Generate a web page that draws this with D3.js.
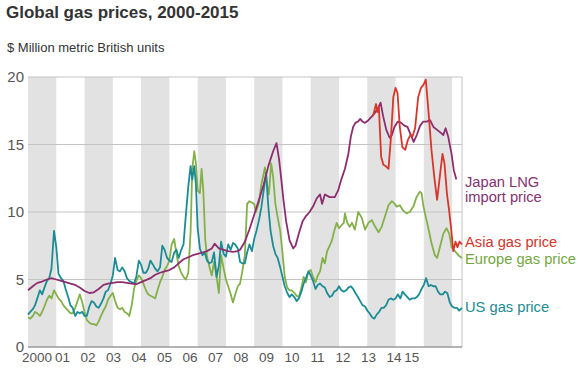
<!DOCTYPE html>
<html>
<head>
<meta charset="utf-8">
<script src="https://cdn.jsdelivr.net/npm/d3@7"></script>
<style>
  html, body { margin: 0; padding: 0; background: #fff; }
  svg { display: block; font-family: "Liberation Sans", Arial, Helvetica, sans-serif; }
</style>
</head>
<body>
<svg id="chart" width="580" height="373"></svg>
<script>
// ---------- DATA ----------
const titleText = "Global gas prices, 2000-2015";
const subtitleText = "$ Million metric British units";
const yTicks = [0, 5, 10, 15, 20];
const tickLabels = ["2000","01","02","03","04","05","06","07","08","09","10","11","12","13","14","15"];
const tickSlots = [0,1,2,3,4,5,6,7,8,9,10,11,12,13,14,14.7];
const bandYears = [2000, 2002, 2004, 2006, 2008, 2010, 2012, 2014];

const usPrice = [[2000.0,2.4],[2000.08,2.6],[2000.17,2.8],[2000.25,3.1],[2000.33,3.6],[2000.42,4.2],[2000.5,3.9],[2000.58,4.4],[2000.67,4.9],[2000.75,5.1],[2000.83,5.8],[2000.92,8.6],[2001.0,7.4],[2001.08,5.4],[2001.17,5.1],[2001.25,4.9],[2001.33,4.3],[2001.42,3.7],[2001.5,3.1],[2001.58,2.9],[2001.67,2.3],[2001.75,2.6],[2001.83,2.5],[2001.92,2.6],[2002.0,2.3],[2002.08,2.3],[2002.17,3.0],[2002.25,3.4],[2002.33,3.3],[2002.42,3.0],[2002.5,2.9],[2002.58,3.2],[2002.67,3.6],[2002.75,4.1],[2002.83,4.2],[2002.92,4.7],[2003.0,5.3],[2003.08,6.6],[2003.17,5.7],[2003.25,5.6],[2003.33,5.9],[2003.42,5.6],[2003.5,5.1],[2003.58,4.9],[2003.67,4.8],[2003.75,4.7],[2003.83,5.2],[2003.92,6.4],[2004.0,6.1],[2004.08,5.5],[2004.17,5.5],[2004.25,5.8],[2004.33,6.4],[2004.42,6.1],[2004.5,5.8],[2004.58,5.6],[2004.67,5.9],[2004.75,7.5],[2004.83,7.2],[2004.92,6.6],[2005.0,6.4],[2005.08,6.3],[2005.17,7.0],[2005.25,7.2],[2005.33,6.6],[2005.42,7.2],[2005.5,7.6],[2005.58,9.7],[2005.67,11.9],[2005.75,13.4],[2005.81,12.4],[2005.88,13.4],[2005.94,12.0],[2006.0,8.8],[2006.08,7.3],[2006.17,6.8],[2006.25,7.0],[2006.33,6.4],[2006.42,6.2],[2006.5,6.3],[2006.58,7.0],[2006.67,5.2],[2006.75,6.0],[2006.83,7.8],[2006.92,6.9],[2007.0,6.7],[2007.08,7.6],[2007.17,7.2],[2007.25,7.7],[2007.33,7.6],[2007.42,7.3],[2007.5,6.3],[2007.58,6.2],[2007.67,6.2],[2007.75,7.0],[2007.83,7.6],[2007.92,7.1],[2008.0,8.0],[2008.08,8.6],[2008.17,9.4],[2008.25,10.3],[2008.33,11.5],[2008.42,12.9],[2008.5,10.4],[2008.58,8.6],[2008.67,7.5],[2008.75,6.9],[2008.83,6.6],[2008.92,5.9],[2009.0,5.2],[2009.08,4.5],[2009.17,4.0],[2009.25,3.7],[2009.33,3.9],[2009.42,3.7],[2009.5,3.4],[2009.58,3.6],[2009.67,4.1],[2009.75,4.7],[2009.83,5.1],[2009.92,5.6],[2010.0,5.3],[2010.08,4.9],[2010.17,4.3],[2010.25,4.6],[2010.33,4.7],[2010.42,4.5],[2010.5,4.4],[2010.58,4.0],[2010.67,3.7],[2010.75,3.8],[2010.83,4.1],[2010.92,4.2],[2011.0,4.5],[2011.08,4.2],[2011.17,4.1],[2011.25,4.2],[2011.33,4.4],[2011.42,4.5],[2011.5,4.3],[2011.58,4.0],[2011.67,3.7],[2011.75,3.4],[2011.83,3.1],[2011.92,3.0],[2012.0,2.7],[2012.08,2.5],[2012.17,2.2],[2012.25,2.1],[2012.33,2.4],[2012.42,2.6],[2012.5,2.9],[2012.58,2.9],[2012.67,3.1],[2012.75,3.5],[2012.83,3.6],[2012.92,3.5],[2013.0,3.6],[2013.08,3.9],[2013.17,3.6],[2013.25,4.1],[2013.33,3.9],[2013.42,3.7],[2013.5,3.5],[2013.58,3.6],[2013.67,3.6],[2013.75,3.7],[2013.83,3.9],[2013.92,4.3],[2014.0,4.6],[2014.08,5.1],[2014.17,4.5],[2014.25,4.6],[2014.33,4.5],[2014.42,4.5],[2014.5,4.1],[2014.58,3.9],[2014.67,3.9],[2014.75,4.1],[2014.83,4.0],[2014.92,3.3],[2015.0,3.0],[2015.08,2.9],[2015.17,2.9],[2015.25,2.7],[2015.35,2.9]];

const europePrice = [[2000.0,2.2],[2000.08,2.1],[2000.17,2.3],[2000.25,2.6],[2000.33,2.5],[2000.42,2.3],[2000.5,2.6],[2000.58,3.0],[2000.67,3.5],[2000.75,3.8],[2000.83,3.6],[2000.92,4.2],[2001.0,3.9],[2001.08,3.6],[2001.17,3.4],[2001.25,3.1],[2001.33,2.9],[2001.42,2.7],[2001.5,2.5],[2001.58,2.5],[2001.67,2.9],[2001.75,3.4],[2001.83,3.9],[2001.92,3.3],[2002.0,2.6],[2002.08,2.0],[2002.17,1.8],[2002.25,1.7],[2002.33,1.7],[2002.42,1.6],[2002.5,1.9],[2002.58,2.3],[2002.67,2.7],[2002.75,3.0],[2002.83,3.5],[2002.92,3.8],[2003.0,4.0],[2003.08,3.4],[2003.17,2.9],[2003.25,2.8],[2003.33,2.9],[2003.42,2.6],[2003.5,2.5],[2003.58,2.3],[2003.67,3.1],[2003.75,4.3],[2003.83,4.9],[2003.92,5.3],[2004.0,5.1],[2004.08,4.7],[2004.17,4.2],[2004.25,3.9],[2004.33,3.8],[2004.42,3.7],[2004.5,3.6],[2004.58,4.2],[2004.67,4.8],[2004.75,5.2],[2004.83,5.7],[2004.92,6.0],[2005.0,6.4],[2005.08,7.6],[2005.17,8.0],[2005.25,6.9],[2005.33,6.0],[2005.42,5.5],[2005.5,5.2],[2005.58,5.0],[2005.67,5.5],[2005.75,8.5],[2005.81,13.2],[2005.88,14.5],[2005.94,13.6],[2006.0,11.6],[2006.08,11.4],[2006.14,13.2],[2006.2,11.6],[2006.27,7.9],[2006.33,6.7],[2006.42,5.9],[2006.5,5.3],[2006.58,6.3],[2006.67,5.2],[2006.75,4.0],[2006.83,6.8],[2006.92,5.8],[2007.0,5.0],[2007.08,4.5],[2007.17,3.9],[2007.25,3.3],[2007.33,3.9],[2007.42,4.5],[2007.5,4.7],[2007.58,5.6],[2007.67,6.8],[2007.75,10.6],[2007.83,10.8],[2007.92,10.7],[2008.0,10.6],[2008.06,10.0],[2008.17,10.7],[2008.25,12.0],[2008.38,13.3],[2008.46,12.0],[2008.52,11.3],[2008.6,13.6],[2008.67,12.6],[2008.75,10.6],[2008.83,9.6],[2008.92,8.6],[2009.0,7.0],[2009.08,5.2],[2009.17,4.4],[2009.25,4.2],[2009.33,4.2],[2009.42,4.0],[2009.5,3.8],[2009.58,3.7],[2009.67,4.4],[2009.75,5.2],[2009.83,4.8],[2009.92,5.6],[2010.0,5.7],[2010.08,5.2],[2010.17,4.8],[2010.25,5.3],[2010.33,5.6],[2010.42,6.6],[2010.5,6.2],[2010.58,7.1],[2010.67,7.5],[2010.75,7.9],[2010.83,8.6],[2010.92,9.2],[2011.0,8.8],[2011.08,9.0],[2011.17,9.2],[2011.21,9.9],[2011.29,9.2],[2011.38,8.9],[2011.46,9.2],[2011.56,8.7],[2011.68,10.0],[2011.8,9.6],[2011.92,8.7],[2012.04,9.2],[2012.16,9.4],[2012.28,8.9],[2012.4,8.5],[2012.51,8.9],[2012.63,9.7],[2012.75,10.5],[2012.87,10.8],[2012.97,10.6],[2013.04,10.4],[2013.15,10.5],[2013.27,10.1],[2013.39,9.9],[2013.5,10.0],[2013.63,10.4],[2013.74,11.1],[2013.86,11.5],[2013.92,11.4],[2013.98,10.5],[2014.04,9.9],[2014.16,8.8],[2014.27,7.7],[2014.39,6.8],[2014.47,6.6],[2014.57,7.4],[2014.69,8.4],[2014.8,8.8],[2014.9,8.4],[2014.98,7.4],[2015.1,7.1],[2015.22,6.8],[2015.35,6.6]];

const japanPrice = [[2000.0,4.2],[2000.17,4.5],[2000.33,4.75],[2000.5,4.85],[2000.67,5.0],[2000.83,5.1],[2001.0,5.0],[2001.17,4.9],[2001.33,4.8],[2001.5,4.7],[2001.67,4.6],[2001.83,4.4],[2002.0,4.15],[2002.17,4.0],[2002.33,4.05],[2002.5,4.3],[2002.67,4.6],[2002.83,4.7],[2003.0,4.75],[2003.17,4.8],[2003.33,4.8],[2003.5,4.75],[2003.67,4.7],[2003.83,4.65],[2004.0,4.8],[2004.17,4.95],[2004.33,5.1],[2004.5,5.35],[2004.67,5.5],[2004.83,5.6],[2005.0,5.7],[2005.17,5.9],[2005.33,6.2],[2005.5,6.5],[2005.67,6.65],[2005.83,6.8],[2006.0,6.9],[2006.17,7.0],[2006.33,7.1],[2006.5,7.3],[2006.6,7.65],[2006.75,7.3],[2006.92,7.2],[2007.08,7.1],[2007.25,7.05],[2007.42,7.1],[2007.5,7.2],[2007.67,7.8],[2007.83,8.7],[2008.0,9.8],[2008.17,10.9],[2008.33,12.0],[2008.5,13.4],[2008.67,14.5],[2008.79,15.1],[2008.88,13.9],[2008.96,12.4],[2009.04,10.8],[2009.13,9.3],[2009.25,7.9],[2009.38,7.3],[2009.46,7.5],[2009.58,8.4],[2009.71,9.3],[2009.83,9.7],[2009.96,10.0],[2010.08,10.4],[2010.21,11.0],[2010.33,11.3],[2010.4,10.6],[2010.5,11.3],[2010.67,11.1],[2010.85,11.1],[2010.97,11.6],[2011.08,12.4],[2011.21,13.2],[2011.33,14.3],[2011.42,15.6],[2011.5,16.3],[2011.58,16.6],[2011.67,16.7],[2011.75,16.9],[2011.83,16.7],[2011.92,16.6],[2012.04,16.8],[2012.17,17.1],[2012.29,17.4],[2012.38,17.7],[2012.47,18.1],[2012.56,17.1],[2012.67,16.1],[2012.79,15.5],[2012.87,15.7],[2012.96,16.3],[2013.08,16.7],[2013.2,16.6],[2013.31,16.4],[2013.42,16.3],[2013.52,15.8],[2013.64,15.2],[2013.75,15.7],[2013.87,16.4],[2013.98,16.7],[2014.1,16.7],[2014.22,16.8],[2014.34,16.3],[2014.46,16.1],[2014.58,15.9],[2014.69,15.7],[2014.77,16.2],[2014.86,15.6],[2014.98,14.3],[2015.06,13.1],[2015.15,12.4]];

const asiaPrice = [[2012.2,17.1],[2012.31,18.0],[2012.36,17.4],[2012.41,17.8],[2012.49,14.1],[2012.57,13.5],[2012.65,13.4],[2012.75,13.2],[2012.84,15.6],[2012.92,18.5],[2013.0,19.2],[2013.07,18.8],[2013.15,16.3],[2013.24,14.8],[2013.34,14.6],[2013.43,15.3],[2013.52,15.7],[2013.6,15.6],[2013.69,16.2],[2013.8,18.5],[2013.9,19.2],[2013.98,19.4],[2014.07,19.8],[2014.17,17.3],[2014.27,14.6],[2014.38,12.4],[2014.47,10.9],[2014.58,12.9],[2014.66,14.3],[2014.73,13.6],[2014.82,11.3],[2014.89,10.2],[2014.96,8.9],[2015.04,7.1],[2015.12,7.8],[2015.19,7.4],[2015.26,7.8],[2015.35,7.6]];

// ---------- LAYOUT ----------
const svg = d3.select("#chart");
const plotLeft = 28, plotRight = 462, plotTop = 77, plotBottom = 347;

const x = d3.scaleLinear().domain([2000, 2015.35]).range([plotLeft, plotRight]);
const y = d3.scaleLinear().domain([0, 20]).range([plotBottom, plotTop]);
const labelX = d3.scaleLinear().domain([0, 14]).range([37, 394]);

svg.append("rect").attr("width", 580).attr("height", 373).attr("fill", "#fff");

// title
svg.append("text").attr("x", 6).attr("y", 18)
  .attr("font-size", 17).attr("font-weight", "bold").attr("fill", "#333")
  .text(titleText);
svg.append("text").attr("x", 7).attr("y", 52)
  .attr("font-size", 13).attr("fill", "#333")
  .text(subtitleText);

// alternating year bands
svg.append("g").selectAll("rect").data(bandYears).join("rect")
  .attr("x", d => x(d)).attr("width", d => x(d + 1) - x(d))
  .attr("y", plotTop).attr("height", plotBottom - plotTop)
  .attr("fill", "#e2e2e2");

// gridlines
svg.append("g").selectAll("line").data(yTicks.filter(d => d > 0)).join("line")
  .attr("x1", plotLeft).attr("x2", plotRight)
  .attr("y1", d => y(d)).attr("y2", d => y(d))
  .attr("stroke", "#c4c4c4").attr("stroke-width", 1);

// right border
svg.append("line").attr("x1", plotRight).attr("x2", plotRight).attr("y1", plotTop).attr("y2", plotBottom)
  .attr("stroke", "#c4c4c4").attr("stroke-width", 1);

// baseline
svg.append("line").attr("x1", plotLeft).attr("x2", plotRight).attr("y1", y(0)).attr("y2", y(0))
  .attr("stroke", "#9a9a9a").attr("stroke-width", 1.5);

// y labels
svg.append("g").selectAll("text").data(yTicks).join("text")
  .attr("x", 24).attr("y", d => y(d)).attr("dy", "0.36em")
  .attr("text-anchor", "end").attr("font-size", 15).attr("fill", "#555")
  .text(d => d);

// x labels
svg.append("g").selectAll("text").data(tickLabels).join("text")
  .attr("x", (d, i) => labelX(tickSlots[i])).attr("y", 362)
  .attr("text-anchor", "middle").attr("font-size", 13.5).attr("fill", "#555")
  .text(d => d);

// lines
const line = d3.line().x(d => x(d[0])).y(d => y(d[1]));
const series = [
  {data: europePrice, color: "#84b04a"},
  {data: usPrice, color: "#1c8c94"},
  {data: japanPrice, color: "#8b2d6f"},
  {data: asiaPrice, color: "#d8362b"}
];
svg.append("g").selectAll("path").data(series).join("path")
  .attr("d", d => line(d.data))
  .attr("fill", "none").attr("stroke", d => d.color)
  .attr("stroke-width", 1.8).attr("stroke-linejoin", "round");

// labels
const legend = [
  {lines: ["Japan LNG", "import price"], y: 187, color: "#86306f"},
  {lines: ["Asia gas price"], y: 247, color: "#d2352c"},
  {lines: ["Europe gas price"], y: 264, color: "#74a63f"},
  {lines: ["US gas price"], y: 312, color: "#218a92"}
];
legend.forEach(l => {
  const t = svg.append("text").attr("x", 465).attr("y", l.y)
    .attr("font-size", 14.7).attr("fill", l.color);
  l.lines.forEach((s, i) => {
    t.append("tspan").attr("x", 465).attr("dy", i === 0 ? 0 : 15).text(s);
  });
});
</script>
</body>
</html>
